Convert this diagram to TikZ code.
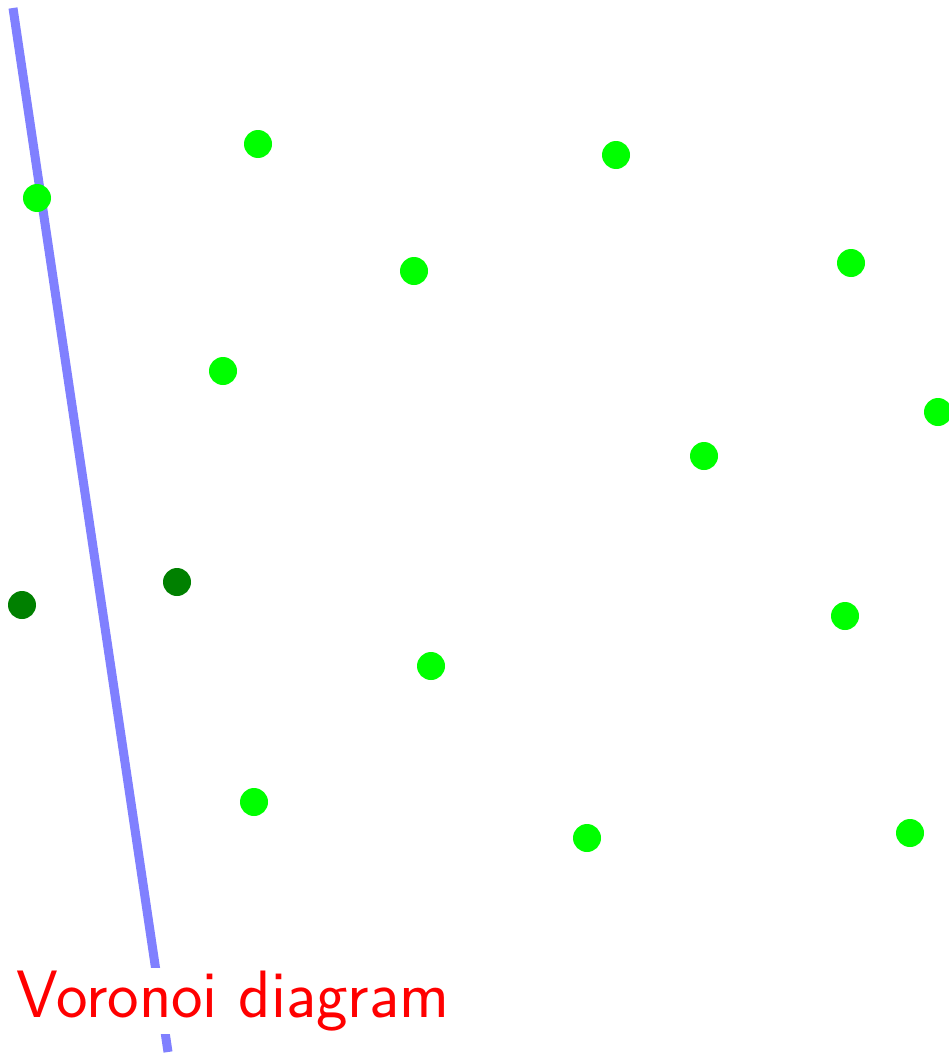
\documentclass[tikz,border=0pt]{standalone}
\begin{document}
\begin{tikzpicture}[x=1pt,y=-1pt,
  site/.style={circle,fill=green,inner sep=0pt,minimum size=28pt},
  dsite/.style={circle,fill=green!50!black,inner sep=0pt,minimum size=28pt},
  edge/.style={draw=blue!50,line width=9pt},
  lbl/.style={fill=white,text=red,font=\sffamily\fontsize{67}{72}\selectfont,inner sep=3pt,anchor=base west}]
\useasboundingbox (0,0) rectangle (949,1057);
\clip (0,0) rectangle (949,1057);
\coordinate (e1) at (13,8);
\coordinate (e2) at (168,1052);
\draw[edge] (e1) -- (e2);
\node[site] (s1) at (37,198) {};
\node[site] (s2) at (258,144) {};
\node[site] (s3) at (616,155) {};
\node[site] (s4) at (414,271) {};
\node[site] (s5) at (851,263) {};
\node[site] (s6) at (223,371) {};
\node[site] (s7) at (938,412) {};
\node[site] (s8) at (704,456) {};
\node[dsite] (d1) at (22,605) {};
\node[dsite] (d2) at (177,582) {};
\node[site] (s9) at (845,616) {};
\node[site] (s10) at (431,666) {};
\node[site] (s11) at (254,802) {};
\node[site] (s12) at (587,838) {};
\node[site] (s13) at (910,833) {};
\node[lbl] (t) at (13,1017) {Voronoi diagram};
\end{tikzpicture}
\end{document}
